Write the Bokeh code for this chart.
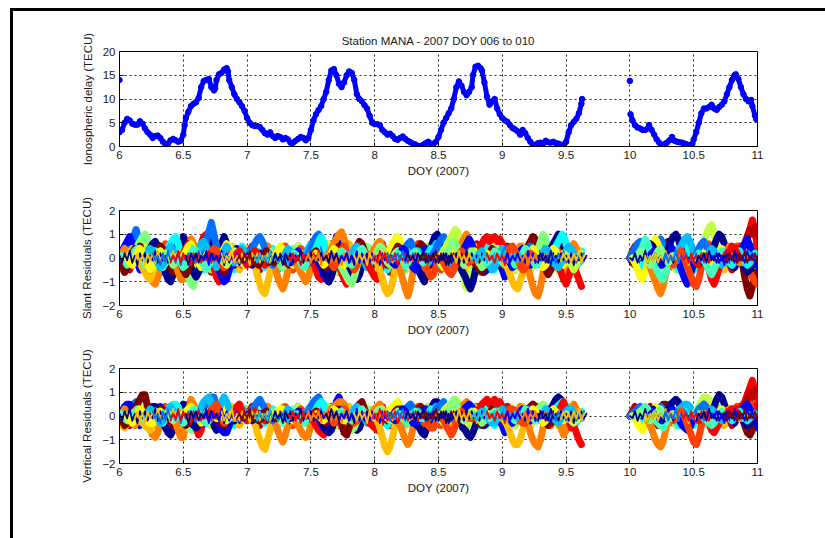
from bokeh.plotting import figure
from bokeh.layouts import column, row
from bokeh.models import Div, Spacer, FixedTicker, Range1d, ColumnDataSource
from bokeh.embed import file_html
from bokeh.resources import INLINE

# ---------------------------------------------------------------- data
# Ionospheric delay (TECU) at station MANA
ion_doy_a = [6.00, 6.02, 6.04, 6.06, 6.08, 6.10, 6.12, 6.14, 6.16, 6.18, 6.20, 6.22, 6.24, 6.26, 6.28,
             6.30, 6.32, 6.34, 6.36, 6.38, 6.40, 6.42, 6.44, 6.46, 6.48, 6.50, 6.51, 6.52, 6.54, 6.56,
             6.58, 6.60, 6.62, 6.64, 6.66, 6.68, 6.70, 6.72, 6.74, 6.75, 6.76, 6.78, 6.80, 6.82, 6.84,
             6.85, 6.86, 6.88, 6.90, 6.92, 6.94, 6.96, 6.98, 7.00, 7.02, 7.04, 7.06, 7.08, 7.10, 7.12,
             7.14, 7.16, 7.18, 7.20, 7.22, 7.24, 7.26, 7.28, 7.30, 7.32, 7.34, 7.36, 7.38, 7.40, 7.42,
             7.44, 7.46, 7.48, 7.50, 7.52, 7.54, 7.56, 7.58, 7.60, 7.62, 7.64, 7.66, 7.68, 7.70, 7.72,
             7.74, 7.76, 7.78, 7.80, 7.82, 7.84, 7.86, 7.88, 7.90, 7.92, 7.94, 7.96, 7.98, 8.00, 8.02,
             8.04, 8.06, 8.08, 8.10, 8.12, 8.14, 8.16, 8.18, 8.20, 8.22, 8.24, 8.26, 8.28, 8.30, 8.32,
             8.34, 8.36, 8.38, 8.40, 8.42, 8.44, 8.46, 8.48, 8.50, 8.52, 8.54, 8.56, 8.58, 8.60, 8.62,
             8.64, 8.66, 8.68, 8.70, 8.72, 8.74, 8.76, 8.77, 8.79, 8.81, 8.83, 8.84, 8.86, 8.88, 8.90,
             8.92, 8.94, 8.96, 8.98, 9.00, 9.02, 9.04, 9.06, 9.08, 9.10, 9.12, 9.14, 9.16, 9.18, 9.20,
             9.22, 9.24, 9.26, 9.28, 9.30, 9.32, 9.34, 9.36, 9.38, 9.40, 9.42, 9.44, 9.46, 9.48, 9.50,
             9.52, 9.54, 9.56, 9.58, 9.60, 9.62, 9.625]
ion_tec_a = [3.0, 3.5, 5.0, 5.8, 5.5, 4.8, 4.6, 4.6, 5.3, 4.8, 3.8, 3.0, 2.5, 1.8, 2.2,
             2.3, 1.8, 1.0, 0.5, 0.6, 1.3, 1.6, 1.3, 1.0, 1.2, 2.5, 4.5, 6.0, 7.3, 8.5,
             9.0, 9.3, 10.2, 12.5, 13.8, 14.0, 14.2, 12.5, 11.8, 12.2, 14.0, 15.2, 15.5, 16.2, 16.5,
             15.8, 14.0, 12.5, 11.0, 10.0, 9.3, 8.5, 7.5, 6.0, 5.0, 4.5, 4.3, 4.3, 4.1, 3.5,
             2.8, 2.5, 3.0, 2.2, 1.8, 2.2, 2.0, 1.5, 1.8, 1.5, 0.8, 0.8, 1.2, 1.6, 2.0,
             1.8, 1.3, 1.8, 3.5, 5.5, 6.8, 7.7, 8.5, 10.0, 11.5, 14.0, 16.0, 16.3, 15.0, 13.2,
             12.5, 13.5, 15.0, 15.8, 15.5, 14.0, 11.0, 10.0, 9.5, 8.7, 8.0, 6.5, 5.0, 4.7, 4.7,
             4.5, 3.5, 3.0, 2.5, 2.7, 2.2, 1.6, 1.4, 1.8, 2.1, 1.6, 1.2, 0.9, 0.6, 0.4,
             0.1, 0.0, 0.4, 0.7, 1.0, 0.6, 0.6, 1.0, 2.0, 3.5, 5.0, 6.0, 7.0, 8.0, 10.0,
             12.5, 13.7, 12.8, 11.5, 10.8, 11.5, 12.5, 15.0, 16.8, 17.0, 16.5, 16.0, 13.5, 10.5, 8.8,
             9.5, 10.0, 8.0, 6.8, 6.0, 5.5, 5.2, 4.5, 3.9, 3.6, 3.2, 2.5, 3.5, 2.8, 1.8,
             1.0, 0.3, 0.4, 0.7, 0.8, 0.6, 1.2, 0.9, 0.8, 1.0, 0.7, 0.6, 0.4, 0.0, 1.0,
             3.0, 4.5, 5.2, 5.8, 7.0, 9.0, 10.0]
ion_doy_b = [10.005, 10.02, 10.04, 10.06, 10.08, 10.10, 10.12, 10.14, 10.15, 10.17, 10.19, 10.21, 10.23,
             10.25, 10.27, 10.29, 10.31, 10.33, 10.35, 10.37, 10.39, 10.41, 10.43, 10.45, 10.47, 10.49,
             10.50, 10.52, 10.54, 10.56, 10.58, 10.60, 10.62, 10.64, 10.66, 10.68, 10.70, 10.72, 10.74,
             10.76, 10.78, 10.80, 10.82, 10.83, 10.85, 10.87, 10.89, 10.91, 10.93, 10.95, 10.96, 10.98,
             10.99]
ion_tec_b = [6.8, 5.5, 4.5, 4.0, 3.8, 3.5, 3.5, 3.8, 4.5, 3.5, 2.5, 1.5, 0.8,
             0.3, 0.5, 0.8, 1.3, 2.0, 1.2, 1.0, 0.9, 0.8, 0.6, 0.4, 0.2, 0.6,
             1.5, 3.0, 5.0, 7.0, 8.0, 8.0, 8.3, 8.8, 8.0, 7.7, 8.3, 8.8, 9.5,
             11.0, 12.5, 14.0, 15.0, 15.2, 14.2, 12.5, 11.0, 10.0, 9.5, 9.8, 8.5, 6.5,
             5.8]
ion_first_doy = [6.0, 10.0]
ion_first_tec = [14.0, 13.8]

# Satellite colours (jet order, low PRN -> high PRN)
JET = {"N": "#00008F", "B": "#0000FF", "A": "#0070FF", "S": "#00BFFF", "C": "#00FFFF",
       "Q": "#40FFBF", "G": "#80FF80", "L": "#BFFF40", "Y": "#FFFF00", "O": "#FFBF00",
       "R": "#FF8000", "E": "#FF4000", "D": "#FF0000", "K": "#BF0000", "M": "#800000"}

STEP = 0.02  # sampling of each pass, days
# Passes: (satellite colour, first DOY, slant residuals, vertical residuals), residuals in 0.1 TECU
passes_doy6 = [
    ("D", 6.00, [0, -4, -6, -3, 1, 4, 3, 0, -3, -5, -2, 2, 5, 3, 0, -3, -5, -2],
                [0, -3, -4, -2, 1, 3, 2, 0, -2, -3, -1, 1, 3, 2, 0, -2, -3, -1]),
    ("A", 6.05, [2, 4, 6, 9, 12, 8, 3, -1, -4, -2, 1, 3, 0, -3, -6, -4, -1, 2, 4, 1],
                [1, 3, 4, 5, 6, 4, 2, -1, -3, -1, 1, 2, 0, -2, -4, -3, -1, 1, 3, 1]),
    ("B", 6.00, [1, 3, 5, 7, 9, 6, 2, -2, -5, -3, 0, 2, 1, -1, -3],
                [1, 2, 4, 5, 5, 3, 1, -2, -4, -2, 0, 1, 1, -1, -2]),
    ("G", 6.10, [1, 3, 5, 7, 9, 10, 8, 4, 0, -3, -5, -3, 0, 2, 4, 2, -1, -4, -6, -8, -6, -3, 0],
                [1, 2, 3, 4, 5, 5, 4, 2, 0, -2, -3, -2, 0, 1, 2, 1, -1, -3, -4, -5, -4, -2, 0]),
    ("R", 6.00, [0, 2, 4, 2, -1, -3, -2, 1, 3, 1, -2, -5, -8, -10, -11, -8, -4, 0, 3, 5, 3],
                [0, 1, 3, 1, -1, -3, -4, -2, 1, 0, -2, -4, -6, -8, -9, -7, -3, 0, 2, 3, 2]),
    ("O", 6.00, [-2, -4, -3, 0, 2, 4, 3, 1, -2, -4, -6, -8, -9, -6, -2, 1, 3, 2],
                [-2, -4, -5, -3, -1, 1, 2, 0, -2, -3, -4, -5, -6, -4, -1, 1, 2, 1]),
    ("N", 6.20, [0, 2, 4, 6, 7, 5, 2, -2, -6, -9, -10, -7, -3, 1, 5, 9, 7, 4, 1],
                [0, 1, 3, 4, 4, 3, 1, -2, -5, -7, -8, -6, -3, 0, 3, 5, 4, 2, 1]),
    ("C", 6.30, [0, -2, -1, 2, 4, 6, 8, 9, 6, 2, -1, -3, -1, 1, 3, 1],
                [0, -1, -1, 1, 3, 4, 5, 5, 4, 1, -1, -2, -1, 1, 2, 1]),
    ("M", 6.00, [-1, -3, -6, -4, -1, 2, 4, 3, 5, 2, -1, -3, -5, -3, 0, 3, 5, 4, 1, -2, -4, -6, -3, 0],
                [-1, -2, -4, -3, 0, 2, 3, 5, 7, 9, 9, 4, -2, -2, 0, 2, 3, 3, 1, -1, -3, -4, -2, 0]),
    ("Q", 6.00, [0, 1, -1, -3, -2, 1, 3, 4, 2, -1, -3, -2, 0, 2, 3, 1, -2, -4, -2, 1],
                [0, 1, -1, -2, -1, 1, 2, 3, 1, -1, -2, -1, 0, 1, 2, 1, -1, -3, -1, 1]),
    ("Y", 6.06, [0, -2, -3, -1, 2, 4, 3, 0, -3, -5, -4, -1, 2, 3, 1],
                [0, -2, -3, -2, 1, 3, 2, 0, -2, -3, -3, -1, 1, 2, 1]),
    ("S", 6.20, [0, 2, 4, 3, 0, -2, -4, -3, 0, 3, 5, 3, 1],
                [0, 1, 3, 2, 0, -1, -3, -2, 0, 2, 4, 2, 1]),
    ("R", 6.42, [0, -3, -6, -9, -9, -4, 3, 8, 6, 2, -1, -3, -1, 2, 4, 2, -1, -3],
                [0, -3, -6, -9, -9, -4, 2, 7, 5, 2, -1, -2, -1, 1, 3, 1, -1, -2]),
    ("G", 6.36, [2, 1, -1, -3, -2, 1, 2, 0, -4, -8, -11, -12, -8, -3, 1, 3, 2],
                [1, 1, -1, -2, -1, 1, 1, 0, -3, -5, -6, -6, -4, -2, 1, 2, 1]),
    ("D", 6.48, [0, 2, 4, 6, 5, 3, 1, 3, 6, 9, 10, 6, 1, -4, -8, -10, -7, -3, 0, 3],
                [0, 1, 2, 3, 1, -2, -5, -8, -6, 2, 7, 5, 1, -2, -3, -2, 0, 1]),
    ("N", 6.52, [0, -2, -4, -6, -8, -6, -2, 3, 7, 10, 7, 2, -1, 2, 6, 9, 6, 2, -1, -3],
                [0, -1, -3, -4, -5, -4, -1, 2, 4, 6, 2, -4, -6, -2, 3, 5, 4, 1, -1, -2]),
    ("A", 6.54, [0, 2, 1, -1, -2, 0, 3, 7, 11, 15, 10, 5, 1, -2, -4, -2, 1, 3, 1],
                [0, 1, 1, -1, -1, 0, 2, 4, 6, 8, 8, 4, 1, -1, -3, -1, 1, 2, 1]),
    ("B", 6.56, [0, 2, 3, 1, -2, -4, -3, 0, 2, 1, -2, -5, -8, -10, -9, -5, -1, 2, 4, 2],
                [0, 1, 2, 1, -1, -3, -2, 0, 1, 1, -1, -3, -6, -7, -7, -4, -1, 1, 3, 1]),
    ("M", 6.46, [0, -2, -5, -7, -5, -2, 1, 3, 2, -1, -3, -1, 2, 4, 3, 0, -3, -5, -6, -3, 0, 2, 1],
                [0, -1, -3, -4, -3, -1, 1, 2, 1, -1, -2, -1, 1, 3, 2, 0, -2, -3, -4, -2, 0, 1, 1]),
    ("Y", 6.50, [1, 3, 5, 6, 4, 1, -2, -4, -2, 1, 3, 2, 0, -2, -1, 2, 4, 6, 5, 2, 0, -2, -1, 1, 2],
                [1, 2, 3, 4, 3, 1, -1, -3, -1, 1, 2, 1, 0, -1, -1, 1, 3, 4, 3, 1, 0, -1, -1, 1, 1]),
    ("S", 6.60, [0, 3, 6, 7, 5, 2, 0, -2, -4, -2, 1, 3, 5, 3, 0, -2, -1, 2, 4, 3, 1],
                [0, 2, 4, 6, 7, 8, 5, 2, 0, 3, 6, 8, 6, 3, 0, -1, -1, 1, 3, 2, 1]),
    ("Q", 6.46, [0, -2, -4, -3, 0, 2, 4, 3, 1, -1, -3, -5, -3, 0, 2, 3, 1, -1],
                [0, -1, -3, -2, 0, 1, 3, 2, 1, -1, -2, -3, -2, 0, 1, 2, 1, -1]),
    ("E", 6.70, [0, 2, 4, 3, 1, -2, -4, -3, 0, 2, 3, 1, -1, -3, -2, 0, 2, 1],
                [0, 2, 4, 5, 3, -1, -3, -2, 0, 1, 2, 1, -1, -2, -1, 0, 1, 1]),
    ("L", 6.80, [0, -2, -3, -1, 1, 3, 2, 0, -2, -3, -1, 1, 2],
                [0, -1, -2, -1, 1, 2, 1, 0, -1, -2, -1, 1, 1]),
]

passes_doy7 = [
    ("O", 7.00, [1, 2, 0, -3, -7, -11, -14, -15, -11, -6, -2, 1, 3, 2],
                [1, 1, 0, -3, -7, -10, -13, -14, -10, -6, -2, 1, 2, 1]),
    ("R", 7.10, [0, 2, 4, 5, 3, 0, -4, -8, -11, -13, -10, -5, -1, 2],
                [0, 1, 3, 4, 2, 0, -3, -6, -9, -11, -8, -4, -1, 1]),
    ("A", 7.00, [0, 2, 4, 6, 8, 9, 7, 4, 1, -1, -3, -2, 0, 2, 3, 1, -1, -2, 0, 2, 1],
                [0, 1, 3, 4, 6, 7, 5, 3, 1, -1, -2, -1, 0, 1, 2, 1, -1, -1, 0, 1, 1]),
    ("N", 7.00, [0, -1, -3, -2, 0, 2, 1, -1, -2, 0, 2, 1, -1, -3, -2, 0, 2, 3, 1, -1, -3, -4, -2, 0, 1, -1],
                [0, -1, -2, -1, 0, 1, 1, -1, -1, 0, 1, 1, -1, -2, -1, 0, 1, 2, 1, -1, -2, -3, -1, 0, 1, -1]),
    ("D", 6.90, [0, 2, 3, 1, -1, -3, -2, 1, 3, 2, 0, -2, -3, -1, 1, 2, 0],
                [0, 4, 5, 2, -1, -2, -1, 1, 2, 1, 0, -1, -2, -1, 1, 1, 0]),
    ("G", 7.16, [0, 2, 3, 1, -1, -3, -4, -2, 0, 2, 4, 3, 1, -1, -2, 0, 1, 3, 2, 0],
                [0, 1, 2, 1, -1, -2, -3, -1, 0, 1, 3, 2, 1, -1, -1, 0, 1, 2, 1, 0]),
    ("M", 7.05, [0, -2, -3, -1, 1, 3, 2, 0, -2, -1, 1, 2, 0, -2, -3, -1, 0, 2, 1],
                [0, -1, -2, -1, 1, 2, 1, 0, -1, -1, 1, 1, 0, -1, -2, -1, 0, 1, 1]),
    ("Y", 7.20, [0, 1, 3, 5, 4, 2, 0, -2, -3, -1, 1, 2, 1, -1, -3, -2, 0],
                [0, 1, 2, 3, 3, 1, 0, -1, -2, -1, 1, 1, 1, -1, -2, -1, 0]),
    ("S", 7.28, [0, 2, 4, 3, 1, -1, -3, -2, 0, 2, 4, 6, 5, 3, 0, -2],
                [0, 1, 3, 2, 1, -1, -2, -1, 0, 1, 3, 4, 3, 2, 0, -1]),
    ("R", 7.36, [0, -2, -4, -6, -8, -10, -8, -4, 0, 2, 1, -1],
                [0, -2, -4, -6, -8, -9, -8, -4, 0, 2, 1, -1]),
    ("B", 7.30, [0, -1, -2, 0, 2, 3, 1, -1, -3, -2, 0, 2, 3, 1, 0],
                [0, -1, -1, 0, 1, 2, 1, -1, -2, -1, 0, 1, 2, 1, 0]),
    ("Q", 7.35, [0, 2, 1, -1, -3, -4, -2, 0, 2, 4, 3, 1, -1],
                [0, 1, 1, -1, -2, -3, -1, 0, 1, 3, 2, 1, -1]),
    ("A", 7.46, [0, 2, 4, 7, 9, 10, 8, 4, 0, -2, -4, -2, 1, 3, 2, 0, -2, -4, -6, -8, -9, -7, -3, 0, 2],
                [0, 2, 4, 6, 7, 8, 6, 3, 0, -1, -3, -1, 1, 2, 1, 0, -1, -3, -4, -5, -6, -5, -2, 0, 1]),
    ("C", 7.50, [0, 2, 4, 7, 9, 7, 3, 0, -2, -1, 1, 3, 2, 0, -2, -1, 1],
                [0, 1, 3, 5, 6, 5, 2, 0, -1, -1, 1, 2, 1, 0, -1, -1, 1]),
    ("D", 7.50, [0, -2, -5, -8, -9, -6, -2, 1, 3, 2, 0, -3, -6, -9, -11, -8, -3, 1, 3],
                [0, -2, -4, -6, -7, -8, -5, -1, 2, 1, 0, -2, -4, -6, -7, -5, -2, 1, 2]),
    ("B", 7.54, [0, -2, -4, -7, -9, -10, -5, 3, 9, 6, 2, -1, -3, -1, 2, 1],
                [0, -1, -3, -5, -6, -7, -3, 2, 6, 8, 5, 1, -2, -1, 1, 1]),
    ("N", 7.56, [0, -2, -5, -8, -10, -8, -4, 0, 3, 5, 3, 0, -3, -6, -8, -9, -7, -3, 0, 2, 1],
                [0, -1, -4, -6, -7, -6, -3, 0, 2, 3, 2, 0, -2, -4, -5, -6, -5, -2, 0, 1, 1]),
    ("R", 7.62, [0, 2, 4, 6, 8, 10, 11, 8, 4, 0, -2, -1, 1, 2, 0],
                [0, 1, 3, 4, 5, 6, 6, 5, 2, 0, -1, -1, 1, 1, 0]),
    ("G", 7.70, [0, -2, -4, -6, -8, -10, -11, -8, -4, 0, 2, 3, 5, 4, 2, 0],
                [0, -1, -3, -4, -5, -6, -6, -5, -2, 0, 1, 2, 3, 3, 1, 0]),
    ("M", 7.50, [0, 2, 3, 1, -1, -3, -4, -2, 0, 2, 4, 5, 3, 0, -2, -3, -1, 2, 5, 7, 6, 3, 0, -2, -3, -1],
                [0, 1, 2, 1, -1, -2, -3, -1, 0, 1, 3, 2, -3, -7, -8, -5, -1, 2, 4, 5, 6, 3, 0, -1, -2, -1]),
    ("Y", 7.52, [0, 2, 1, -1, -3, -2, 0, 2, 4, 3, 1, -1, -3, -2, 1, 3, 2],
                [0, 1, 1, -1, -2, -1, 0, 1, 3, 2, 1, -1, -2, -1, 1, 2, 1]),
    ("E", 7.64, [0, -2, -4, -2, 1, 3, 5, 3, 0, -3, -5, -3, 0, 2, 3, 1],
                [0, -1, -3, -1, 1, 2, 3, 2, 0, -2, -3, -2, 0, 1, 2, 1]),
    ("S", 7.80, [0, 2, 4, 5, 3, 0, -2, -4, -3, 0, 3, 2, 0],
                [0, 1, 3, 4, 2, 0, -1, -3, -2, 0, 2, 1, 0]),
    ("Q", 7.70, [0, 1, 3, 2, 0, -2, -3, -1, 1, 3, 4, 2, 0, -2, -1],
                [0, 1, 2, 1, 0, -1, -2, -1, 1, 2, 3, 1, 0, -1, -1]),
]

passes_doy8 = [
    ("D", 7.92, [0, -2, -4, -6, -8, -9, -6, -2, 1, 3, 2, 0, -2, -1, 1],
                [0, -1, -3, -4, -5, -6, -4, -1, 1, 2, 1, 0, -1, -1, 1]),
    ("R", 7.96, [0, 2, 4, 6, 7, 5, 2, -1, -3, -1, 1, 2, 0],
                [0, 1, 3, 4, 5, 3, 1, -1, -2, -1, 1, 1, 0]),
    ("O", 8.00, [0, -2, -5, -9, -13, -15, -14, -10, -5, 0, 3, 2],
                [0, -2, -5, -9, -13, -15, -13, -9, -4, 0, 2, 1]),
    ("Y", 8.08, [0, 2, 4, 6, 8, 9, 7, 4, 1, -1, -2, 0, 2, 1],
                [0, 1, 3, 4, 5, 6, 4, 2, 1, -1, -1, 0, 1, 1]),
    ("R", 8.14, [0, 1, -2, -5, -9, -13, -16, -12, -6, -1, 2, 3, 1],
                [0, 1, -2, -4, -7, -10, -12, -10, -5, -1, 1, 2, 1]),
    ("A", 8.20, [0, 2, 4, 6, 7, 5, 2, 0, -2, -3, -1, 1, 3, 2, 0],
                [0, 1, 3, 4, 5, 3, 1, 0, -1, -2, -1, 1, 2, 1, 0]),
    ("N", 8.29, [0, -2, -4, -6, -8, -10, -6, 0, 6, 9, 10, 7, 3, 0, -3],
                [0, -2, -4, -5, -7, -8, -5, 0, 4, 6, 6, 4, 2, 0, -2]),
    ("M", 8.00, [0, 2, 3, 1, -1, -3, -2, 0, 3, 5, 4, 1, -2, -4, -3, 0, 2, 4, 6, 5, 2, -1, -3],
                [0, 1, 2, 1, -1, -2, -1, 0, 2, 3, 3, 1, -1, -3, -2, 0, 1, 3, 4, 3, 1, -1, -2]),
    ("G", 8.00, [0, 3, 5, 4, 1, -2, -3, -1, 2, 3, 1, -1, -3, -4, -2, 0, 2, 1],
                [0, 2, 3, 3, 1, -1, -2, -1, 1, 2, 1, -1, -2, -3, -1, 0, 1, 1]),
    ("B", 8.12, [0, -2, -3, -1, 2, 4, 3, 0, -2, -4, -5, -3, 0, 2, 4, 3, 1, -1, -3, -2],
                [0, -1, -2, -1, 1, 3, 2, 0, -1, -3, -3, -2, 0, 1, 3, 2, 1, -1, -2, -1]),
    ("S", 8.30, [0, 2, 3, 1, -1, -3, -2, 1, 4, 6, 4, 1, -1, -3, -2],
                [0, 1, 2, 1, -1, -2, -1, 1, 3, 4, 3, 1, -1, -2, -1]),
    ("E", 8.36, [0, -2, -4, -6, -8, -7, -4, 0, 2, 1],
                [0, -1, -3, -4, -5, -5, -3, 0, 1, 1]),
    ("Q", 8.16, [0, 2, 1, -1, -3, -2, 0, 2, 3, 1, -1, -2, 0, 2],
                [0, 1, 1, -1, -2, -1, 0, 1, 2, 1, -1, -1, 0, 1]),
    ("C", 8.40, [0, 2, 4, 3, 1, -1, -3, -2, 0, 2, 1],
                [0, 1, 3, 2, 1, -1, -2, -1, 0, 1, 1]),
    ("A", 8.44, [0, 2, 4, 6, 8, 9, 7, 3, 0, -2, -3, -1, 1, 3, 2, 0],
                [0, 1, 3, 4, 5, 6, 4, 2, 0, -1, -2, -1, 1, 2, 1, 0]),
    ("L", 8.51, [0, 2, 4, 6, 8, 10, 12, 11, 4, -5, -12, -13, -8, -2, 1],
                [0, 1, 3, 4, 5, 6, 7, 6, 2, -3, -6, -6, -4, -1, 1]),
    ("R", 8.62, [0, 2, 4, 6, 8, 10, 7, 3, 0, -2, -1, 1, 0],
                [0, 1, 3, 4, 5, 6, 4, 2, 0, -1, -1, 1, 0]),
    ("N", 8.63, [0, -2, -4, -6, -8, -11, -13, -10, -5, 0, 3, 2],
                [0, -2, -3, -5, -6, -8, -9, -7, -4, 0, 2, 1]),
    ("B", 8.66, [0, 2, 4, 6, 8, 6, 3, 0, -2, -4, -6, -5, -2, 1, 3, 1, -2, -5, -8, -6, -2],
                [0, 1, 3, 4, 5, 4, 2, 0, -1, -3, -4, -3, -1, 1, 2, 1, -2, -4, -7, -5, -2]),
    ("D", 8.78, [0, 2, 4, 6, 8, 9, 7, 8, 9, 7, 8, 6, 3, 0, -2, -1, 1],
                [0, 2, 3, 5, 6, 7, 5, 6, 7, 5, 6, 4, 2, 0, -1, -1, 1]),
    ("M", 8.76, [0, -2, -3, -5, -6, -4, -1, 2, 4, 3, 1, -1, -3, -2, 0, 2],
                [0, -1, -2, -3, -4, -3, -1, 1, 3, 2, 1, -1, -2, -1, 0, 1]),
    ("Y", 8.50, [0, -2, -4, -3, 0, 2, 4, 3, 1, -1, -3, -2, 0, 2, 3, 1, -1, -2, 0, 2, 1],
                [0, -1, -3, -2, 0, 1, 3, 2, 1, -1, -2, -1, 0, 1, 2, 1, -1, -1, 0, 1, 1]),
    ("G", 8.54, [0, 2, 4, 6, 7, 5, 2, -1, -3, -2, 1, 3, 2, 0, -2, -4, -3, 0],
                [0, 1, 3, 5, 7, 5, 2, -1, -2, -1, 1, 2, 1, 0, -1, -3, -2, 0]),
    ("E", 8.52, [0, -2, -4, -6, -7, -5, -2, 1, 3, 2, 0, -2, -1],
                [0, -2, -4, -6, -8, -6, -2, 1, 2, 1, 0, -1, -1]),
    ("S", 8.80, [0, 2, 3, 1, -1, -3, -5, -4, -1, 2, 4, 3, 1, -1, -2],
                [0, 1, 2, 1, -1, -2, -3, -3, -1, 1, 3, 2, 1, -1, -1]),
    ("Q", 8.86, [0, -2, -1, 1, 3, 2, 0, -2, -3, -1, 1, 2, 0],
                [0, -1, -1, 1, 2, 1, 0, -1, -2, -1, 1, 1, 0]),
]

passes_doy9 = [
    ("O", 9.00, [0, -2, -4, -7, -10, -12, -13, -10, -6, -2, 1, 2, 0],
                [0, -2, -4, -7, -10, -12, -12, -10, -6, -2, 1, 1, 0]),
    ("R", 9.10, [0, 3, 5, 3, 0, -4, -8, -12, -15, -16, -12, -6, -1, 2],
                [0, 2, 4, 2, 0, -3, -7, -10, -12, -13, -10, -5, -1, 1]),
    ("M", 9.10, [0, -2, -1, 1, 3, 5, 7, 9, 8, 5, 1, -2, -5, -7, -5, -2, 1],
                [0, -1, -1, 1, 2, 3, 4, 5, 4, 3, 1, -1, -3, -4, -3, -1, 1]),
    ("G", 9.16, [0, 2, 3, 1, -1, 1, 4, 7, 10, 8, 4, 0, -2, -1],
                [0, 1, 2, 1, -1, 1, 3, 4, 5, 4, 2, 0, -1, -1]),
    ("N", 9.28, [0, -2, -3, -1, 2, 4, 6, 8, 10, 9, 5, 1, -2, -4, -2, 0],
                [0, -1, -2, -1, 1, 3, 5, 7, 8, 7, 4, 1, -1, -3, -1, 0]),
    ("C", 9.37, [0, 2, 4, 6, 8, 10, 8, 4, 0, -2, -1, 1, 0],
                [0, 1, 3, 4, 5, 6, 5, 2, 0, -1, -1, 1, 0]),
    ("R", 9.42, [0, -2, -4, -6, -4, 0, 4, 6, 4, 1, -1],
                [0, -2, -5, -8, -6, -1, 3, 5, 3, 1, -1]),
    ("D", 9.42, [0, -3, -6, -9, -11, -8, -4, -3, -6, -9, -12],
                [0, 2, 4, 6, 3, -2, -5, -4, -7, -10, -12]),
    ("A", 9.00, [0, 2, 4, 3, 1, -1, -3, -2, 0, 2, 4, 5, 3, 0, -2, -3, -1, 1, 2, 0],
                [0, 1, 3, 2, 1, -1, -2, -1, 0, 1, 3, 3, 2, 0, -1, -2, -1, 1, 1, 0]),
    ("B", 9.04, [0, -2, -4, -3, 0, 3, 4, 2, -1, -3, -2, 0, 2, 1, -1, -3, -2, 1, 3, 2, 0],
                [0, -1, -3, -2, 0, 2, 3, 1, -1, -2, -1, 0, 1, 1, -1, -2, -1, 1, 2, 1, 0]),
    ("Y", 9.20, [0, 2, 4, 3, 0, -2, -4, -3, -1, 2, 4, 3, 0, -2, -3, -1, 1, 2, 0, -2, -1],
                [0, 1, 3, 2, 0, -1, -3, -2, -1, 1, 3, 2, 0, -1, -2, -1, 1, 1, 0, -1, -1]),
    ("Q", 9.02, [0, 2, 1, -1, -3, -2, 0, 2, 4, 3, 1, -1, -3, -2, 0],
                [0, 1, 1, -1, -2, -1, 0, 1, 3, 2, 1, -1, -2, -1, 0]),
    ("S", 9.30, [0, 2, 4, 3, 1, -1, -3, -4, -2, 1, 3, 5, 4, 2, 0, -2, -1],
                [0, 1, 3, 2, 1, -1, -2, -3, -1, 1, 2, 3, 3, 1, 0, -1, -1]),
    ("E", 9.02, [0, 2, 4, 5, 3, 0, -3, -5, -4, -1, 2, 1],
                [0, 1, 3, 3, 2, 0, -2, -3, -3, -1, 1, 1]),
    ("L", 9.46, [0, 2, 1, -1, -3, -5, -3, 0, 2],
                [0, 1, 1, -1, -2, -3, -2, 0, 1]),
]

passes_doy10 = [
    ("M", 10.00, [0, -2, -3, -1, 2, 4, 6, 4, 1, -2, -4, -3, 0, 3, 6, 7, 5, 2, -1, -2],
                 [0, 1, 1, 0, 1, 2, 3, 2, 1, -1, -2, 0, 3, 5, 5, 4, 2, 1, -1, -1]),
    ("D", 10.00, [0, 2, 4, 6, 4, 1, -2, -4, -3, 0, 2, 1, -1],
                 [0, 1, 2, 3, 2, 1, -1, -2, -2, 0, 1, 1, -1]),
    ("C", 10.02, [0, -2, -4, -5, -3, 0, 2, 4, 3, 1, -1, -2, 0],
                 [0, -1, -2, -3, -2, 0, 1, 2, 2, 1, -1, -1, 0]),
    ("A", 10.00, [0, 2, 4, 6, 7, 5, 2, -1, -2, 0, 3, 6, 8, 6, 3, 0, -2, -1],
                 [0, 1, 2, 3, 4, 3, 1, -1, -1, 0, 2, 3, 4, 3, 2, 0, -1, -1]),
    ("Y", 10.02, [0, -2, -5, -8, -9, -6, -2, 2, 6, 8, 6, 2, -1, -3, -1],
                 [0, -1, -3, -5, -6, -4, -1, 1, 3, 4, 3, 1, -1, -2, -1]),
    ("N", 10.10, [0, 2, 4, 6, 5, 2, -1, -3, -2, 1, 4, 7, 9, 10, 8, 4, 0, -2, -1],
                 [0, 1, 2, 3, 3, 1, -1, -2, -1, 1, 3, 5, 6, 7, 6, 3, 0, -1, -1]),
    ("R", 10.12, [0, -2, -4, -7, -10, -13, -15, -12, -7, -2, 1, 3, 2],
                 [0, -2, -4, -7, -10, -12, -13, -11, -6, -2, 1, 2, 1]),
    ("Q", 10.06, [0, 2, 5, 8, 6, 2, -1, -4, -6, -8, -9, -6, -2, 1, 2],
                 [0, 1, 3, 4, 3, 1, -1, -2, -3, -4, -5, -3, -1, 1, 1]),
    ("B", 10.15, [0, 2, 3, 1, -1, -3, -2, 0, 2, 4, 3, 0, -3, -6, -9, -11, -8, -4, 0, 3],
                 [0, 1, 2, 1, -1, -2, -1, 0, 1, 3, 2, 0, -2, -4, -5, -6, -5, -2, 0, 2]),
    ("S", 10.35, [0, 2, 4, 6, 8, 9, 7, 4, 1, -1, -3, -2, 0],
                 [0, 1, 3, 4, 5, 5, 4, 2, 1, -1, -2, -1, 0]),
    ("E", 10.30, [0, -2, -3, -1, 2, 3, 1, -2, -5, -8, -11, -12, -9, -4, 0, 3, 6, 4, 1],
                 [0, -1, -2, -1, 1, 2, 1, -2, -5, -8, -11, -12, -9, -4, 0, 2, 4, 3, 1]),
    ("G", 10.04, [0, 1, 3, 2, 0, -2, -3, -1, 1, 3, 4, 2, 0, -2, -1, 1],
                 [0, 1, 2, 1, 0, -1, -2, -1, 1, 2, 3, 1, 0, -1, -1, 1]),
    ("L", 10.50, [0, 2, 3, 5, 7, 10, 13, 14, 10, 4, -1, -3, -1, 2],
                 [0, 2, 4, 6, 8, 8, 7, 6, 4, 2, -1, -2, -1, 1]),
    ("D", 10.50, [0, -2, -3, -1, 1, -2, -5, -9, -11, -8, -4, 0, 2, 3, 2, 0, 2, 4, 3],
                 [0, -1, -2, -1, 1, -1, -3, -6, -7, -5, -3, 0, 1, 2, 1, 0, 1, 3, 2]),
    ("N", 10.56, [0, -2, -3, -1, 2, 5, 8, 10, 9, 6, 2, -1, -3, -4, -2, 0, 2, 1],
                 [0, -1, -2, -1, 2, 4, 7, 9, 8, 5, 2, -1, -2, -3, -1, 0, 1, 1]),
    ("A", 10.50, [0, 2, 4, 6, 7, 5, 2, -1, -3, -2, 0, 2, 3, 1, -1, -3, -2, 1, 3, 2],
                 [0, 1, 3, 4, 5, 3, 1, -1, -2, -1, 0, 1, 2, 1, -1, -2, -1, 1, 2, 1]),
    ("Y", 10.56, [0, 2, 1, -1, -3, -2, 0, 2, 4, 3, 1, -1, -2, 0, 2],
                 [0, 1, 1, -1, -2, -1, 0, 1, 3, 2, 1, -1, -1, 0, 1]),
    ("M", 10.78, [0, -2, -1, 1, 3, -2, -8, -13, -16, -12, -6],
                 [0, -1, -1, 1, 2, -1, -4, -7, -8, -6, -3]),
    ("D", 10.80, [0, 2, 4, 3, 5, 6, 9, 12, 16, 12, 4],
                 [0, 2, 3, 3, 4, 6, 9, 12, 15, 11, 4]),
    ("E", 10.88, [0, -2, -4, -6, -8, -10, -11],
                 [0, 2, 4, 6, 8, 9, 7]),
    ("K", 10.86, [0, 3, 6, 9, 12, 10, 13, 11, 8, 6, 5],
                 [0, 2, 5, 7, 10, 8, 11, 9, 6, 4, 3]),
    ("B", 10.84, [0, 2, 4, 6, 8, 5, 2, -1, -3, -5, -3],
                 [0, 1, 3, 4, 5, 3, 1, -2, -4, -6, -8]),
    ("N", 10.86, [0, -2, -4, -6, -5, -3, -1, 1],
                 [0, -1, -3, -4, -3, -2, -1, 1]),
    ("S", 10.60, [0, 2, 4, 3, 1, -1, -3, -2, 0, 2, 4, 3, 1, -1, -2, 0, 2],
                 [0, 1, 3, 2, 1, -1, -2, -1, 0, 1, 3, 2, 1, -1, -1, 0, 1]),
    ("R", 10.72, [0, 2, 3, 5, 4, 2, 0, -2, -1, 1],
                 [0, 1, 2, 3, 3, 1, 0, -1, -1, 1]),
    ("C", 10.76, [0, -2, -3, -1, 2, 3, 1, -1, -3, -2, 0, 2],
                 [0, -1, -2, -1, 1, 2, 1, -1, -2, -1, 0, 1]),
    ("Q", 10.52, [0, 2, 1, -1, -3, -5, -7, -5, -2, 1, 3, 2, 0],
                 [0, 1, 1, -1, -2, -3, -4, -3, -1, 1, 2, 1, 0]),
    ("D", 10.74, [0, 2, 3, 5, 4, 2, 0],
                 [0, 1, 2, 3, 3, 1, 0]),
]

# Mid-elevation passes that fill the +-0.6 TECU band
passes_band = [
    ("K", 6.04, [2, -3, -5, -1, 4, 5, 0, -4, -3, 2, 5, 3, -2, -5, -2, 3, 4, 0],
                [1, -2, -4, -1, 3, 4, 0, -3, -2, 1, 4, 2, -1, -4, -1, 2, 3, 0]),
    ("L", 6.16, [0, 4, 6, 2, -3, -5, -1, 4, 5, 1, -4, -6, -2, 3, 5, 1, -3],
                [0, 3, 4, 1, -2, -4, -1, 3, 4, 1, -3, -4, -1, 2, 3, 1, -2]),
    ("E", 6.26, [0, -3, -6, -2, 3, 6, 2, -3, -5, -1, 4, 5, 0, -3],
                [0, -2, -4, -1, 2, 4, 1, -2, -4, -1, 3, 4, 0, -2]),
    ("B", 6.30, [1, 5, 3, -2, -5, -3, 2, 5, 4, -1, -4, -2, 3, 6, 2],
                [1, 4, 2, -1, -4, -2, 1, 4, 3, -1, -3, -1, 2, 4, 1]),
    ("K", 6.50, [0, 4, 7, 3, -2, -5, -2, 3, 6, 2, -3, -6, -3, 2, 5, 1, -3, -5, -1, 3, 4],
                [0, 3, 5, 2, -1, -4, -1, 2, 4, 1, -2, -4, -2, 1, 4, 1, -2, -4, -1, 2, 3]),
    ("C", 6.62, [0, -3, -5, -1, 3, 5, 1, -4, -6, -2, 3, 6, 2, -2, -5, -1, 3, 5],
                [0, -2, -4, -1, 2, 4, 1, -3, -4, -1, 2, 4, 1, -1, -4, -1, 2, 4]),
    ("O", 6.72, [0, 3, 5, 1, -3, -6, -2, 3, 5, 1, -2, -5, -2, 2, 4],
                [0, 2, 4, 1, -2, -4, -1, 2, 4, 1, -1, -4, -1, 1, 3]),
    ("L", 6.56, [0, -3, -6, -3, 2, 5, 2, -3, -5, -1, 4, 6, 2, -3],
                [0, -2, -4, -2, 1, 4, 1, -2, -4, -1, 3, 4, 1, -2]),
    ("K", 7.00, [0, 3, 5, 1, -3, -5, -1, 3, 5, 2, -2, -4, -1, 3, 4, 0, -3, -4, 0, 3, 5, 1, -2],
                [0, 2, 4, 1, -2, -4, -1, 2, 4, 1, -1, -3, -1, 2, 3, 0, -2, -3, 0, 2, 4, 1, -1]),
    ("L", 7.24, [0, 3, 5, 2, -2, -5, -2, 2, 5, 3, -1, -4, -3, 1, 4, 2, -2, -4, -1, 3],
                [0, 2, 4, 1, -1, -4, -1, 1, 4, 2, -1, -3, -2, 1, 3, 1, -1, -3, -1, 2]),
    ("E", 7.20, [0, -3, -5, -2, 2, 5, 2, -2, -5, -3, 1, 4, 3, -1, -4, -2, 2, 4],
                [0, -2, -4, -1, 1, 4, 1, -1, -4, -2, 1, 3, 2, -1, -3, -1, 1, 3]),
    ("C", 7.06, [0, 3, 2, -2, -4, -1, 3, 4, 0, -3, -4, 0, 3],
                [0, 2, 1, -1, -3, -1, 2, 3, 0, -2, -3, 0, 2]),
    ("K", 7.56, [0, -3, -6, -2, 3, 6, 2, -3, -6, -2, 3, 5, 1, -3, -5, -1, 3, 5, 2, -2, -4],
                [0, -2, -4, -1, 2, 4, 1, -2, -4, -1, 2, 4, 1, -2, -4, -1, 2, 4, 1, -1, -3]),
    ("L", 7.60, [0, 3, 6, 2, -3, -6, -2, 3, 6, 2, -2, -5, -2, 3, 5],
                [0, 2, 4, 1, -2, -4, -1, 2, 4, 1, -1, -4, -1, 2, 4]),
    ("O", 7.76, [0, 4, 6, 2, -2, -5, -2, 2, 5, 3, -1, -4],
                [0, 3, 4, 1, -1, -4, -1, 1, 4, 2, -1, -3]),
    ("K", 8.02, [0, 3, 6, 2, -3, -6, -2, 3, 6, 2, -2, -5, -1, 3, 5, 1, -3, -5, -1, 3, 5, 2],
                [0, 2, 4, 1, -2, -4, -1, 2, 4, 1, -1, -4, -1, 2, 4, 1, -2, -4, -1, 2, 4, 1]),
    ("L", 8.20, [0, -3, -5, -1, 3, 5, 1, -3, -6, -2, 3, 5, 2, -2, -4],
                [0, -2, -4, -1, 2, 4, 1, -2, -4, -1, 2, 4, 1, -1, -3]),
    ("C", 8.06, [0, -3, -5, -2, 2, 5, 2, -2, -5, -2, 2, 4],
                [0, -2, -4, -1, 1, 4, 1, -1, -4, -1, 1, 3]),
    ("E", 8.30, [0, 4, 6, 2, -3, -5, -1, 3, 5, 1, -3, -5],
                [0, 3, 4, 1, -2, -4, -1, 2, 4, 1, -2, -4]),
    ("K", 8.52, [0, 3, 6, 3, -2, -5, -2, 3, 6, 2, -3, -6, -2, 3, 6, 2, -2, -5, -1, 3, 5, 2, -2, -3],
                [0, 2, 4, 2, -1, -4, -1, 2, 4, 1, -2, -4, -1, 2, 4, 1, -1, -4, -1, 2, 4, 1, -1, -2]),
    ("O", 8.56, [0, -3, -5, -1, 3, 5, 1, -3, -5, -2, 2, 5, 2],
                [0, -2, -4, -1, 2, 4, 1, -2, -4, -1, 1, 4, 1]),
    ("C", 8.72, [0, 3, 6, 2, -3, -6, -2, 3, 5, 1, -3, -5, -1, 3],
                [0, 2, 4, 1, -2, -4, -1, 2, 4, 1, -2, -4, -1, 2]),
    ("L", 8.84, [0, -3, -5, -1, 3, 6, 2, -3, -5, -1, 3, 5],
                [0, -2, -4, -1, 2, 4, 1, -2, -4, -1, 2, 4]),
    ("K", 9.00, [0, 3, 5, 2, -3, -5, -2, 3, 5, 1, -3, -5, -1, 3, 5, 2, -2, -4, 0, 3],
                [0, 2, 4, 1, -2, -4, -1, 2, 4, 1, -2, -4, -1, 2, 4, 1, -1, -3, 0, 2]),
    ("L", 9.06, [0, -3, -5, -1, 3, 5, 1, -3, -5, -2, 2, 4, 1, -3],
                [0, -2, -4, -1, 2, 4, 1, -2, -4, -1, 1, 3, 1, -2]),
    ("C", 9.24, [0, 3, 6, 2, -3, -5, -1, 3, 6, 2, -3, -5, -1, 3, 5, 1, -2, -4, -1, 3],
                [0, 2, 4, 1, -2, -4, -1, 2, 4, 1, -2, -4, -1, 2, 4, 1, -1, -3, -1, 2]),
    ("O", 9.40, [0, -3, -5, -1, 3, 5, 1, -3, -4, 0, 3],
                [0, -2, -4, -1, 2, 4, 1, -2, -3, 0, 2]),
    ("E", 9.28, [0, 3, 5, 1, -3, -5, -1, 3, 5, 2, -2, -4, 0],
                [0, 2, 4, 1, -2, -4, -1, 2, 4, 1, -1, -3, 0]),
    ("K", 10.00, [0, 3, 5, 1, -3, -5, -1, 3, 6, 2, -3, -5, -1, 3, 5, 1, -3, -4],
                 [0, 2, 4, 1, -2, -4, -1, 2, 4, 1, -2, -4, -1, 2, 4, 1, -2, -3]),
    ("L", 10.20, [0, -3, -5, -1, 3, 6, 2, -3, -5, -1, 3, 5, 1, -3, -5, -1, 3],
                 [0, -2, -4, -1, 2, 4, 1, -2, -4, -1, 2, 4, 1, -2, -4, -1, 2]),
    ("O", 10.52, [0, 3, 5, 1, -3, -5, -1, 3, 5, 2, -2, -5, -2, 2, 4],
                 [0, 2, 4, 1, -2, -4, -1, 2, 4, 1, -1, -4, -1, 1, 3]),
    ("C", 10.34, [0, -3, -5, -1, 3, 5, 1, -3, -5, -2, 2, 4],
                 [0, -2, -4, -1, 2, 4, 1, -2, -4, -1, 1, 3]),
    ("K", 10.64, [0, -3, -5, -1, 3, 5, 2, -2, -5, -2, 3, 5, 1, -3, -5, -1, 3, 4],
                 [0, -2, -4, -1, 2, 4, 1, -1, -4, -1, 2, 4, 1, -2, -4, -1, 2, 3]),
    ("E", 10.80, [0, 3, 5, 2, -2, -4, -1, 3, 5, 2],
                 [0, 2, 4, 1, -1, -3, -1, 2, 4, 1]),
]

# High-elevation passes: small, fast residuals close to zero (0.1 TECU)
passes_core = [
    ("N", 6.00, [1, -2, 2, -1, 3, -2, 1, -3, 2, -1, 2, -2, 1, -1, 3, -2, 2, -1, 1, -2]),
    ("O", 6.12, [-1, 2, -2, 1, -3, 2, -1, 2, -2, 3, -1, 1, -2, 2, -1, 3, -2, 1, -1, 2]),
    ("A", 6.26, [2, -1, 1, -3, 2, -2, 3, -1, 1, -2, 2, -3, 1, -1, 2, -2, 1, -2, 3, -1]),
    ("D", 6.40, [-2, 1, -1, 3, -2, 2, -1, 1, -3, 2, -1, 2, -2, 1, -1, 3, -2, 2, -1, 1]),
    ("N", 6.52, [1, -3, 2, -1, 2, -2, 1, -1, 3, -2, 2, -1, 1, -2, 2, -3, 1, -1, 2, -2]),
    ("B", 6.66, [-1, 2, -3, 2, -1, 1, -2, 3, -1, 2, -2, 1, -1, 2, -3, 1, -2, 2, -1, 1]),
    ("O", 6.80, [2, -2, 1, -1, 3, -2, 1, -2, 2, -1, 1, -3, 2, -1, 2, -2, 1, -1, 2, -2]),
    ("M", 6.92, [-1, 1, -2, 2, -1, 3, -2, 1, -1, 2, -2, 1, -3, 2, -1, 1, -2, 2, -1, 1]),
    ("S", 7.06, [1, -2, 2, -1, 1, -2, 3, -1, 2, -2, 1, -1, 2, -3, 1, -2, 2, -1, 1, -2]),
    ("N", 7.20, [-2, 2, -1, 1, -3, 2, -1, 2, -2, 1, -1, 3, -2, 1, -1, 2, -2, 1, -1, 2]),
    ("D", 7.32, [1, -1, 2, -2, 1, -3, 2, -1, 1, -2, 2, -1, 3, -2, 1, -1, 2, -2, 1, -1]),
    ("R", 7.46, [-1, 2, -2, 1, -1, 2, -3, 2, -1, 1, -2, 2, -1, 1, -3, 2, -1, 2, -2, 1]),
    ("N", 7.58, [2, -1, 1, -2, 3, -1, 2, -2, 1, -1, 2, -2, 1, -3, 2, -1, 1, -2, 2, -1]),
    ("B", 7.72, [-2, 1, -1, 2, -2, 1, -1, 3, -2, 2, -1, 1, -2, 2, -1, 1, -3, 2, -1, 2]),
    ("O", 7.84, [1, -2, 2, -1, 1, -3, 2, -1, 2, -2, 1, -1, 3, -2, 1, -2, 2, -1, 1, -2]),
    ("D", 7.98, [-1, 1, -2, 3, -1, 2, -2, 1, -1, 2, -3, 1, -1, 2, -2, 1, -1, 2, -2, 1]),
    ("A", 8.10, [2, -2, 1, -1, 2, -1, 3, -2, 1, -1, 2, -2, 1, -1, 3, -2, 2, -1, 1, -2]),
    ("N", 8.24, [-1, 2, -1, 1, -2, 2, -1, 3, -2, 1, -1, 2, -2, 1, -1, 2, -3, 1, -2, 2]),
    ("M", 8.36, [1, -1, 2, -2, 1, -1, 3, -2, 2, -1, 1, -2, 2, -1, 1, -3, 2, -1, 2, -1]),
    ("N", 8.50, [-2, 1, -1, 2, -3, 1, -1, 2, -2, 1, -2, 3, -1, 2, -1, 1, -2, 2, -1, 1]),
    ("O", 8.62, [1, -2, 3, -1, 1, -2, 2, -1, 1, -3, 2, -1, 2, -2, 1, -1, 2, -2, 1, -1]),
    ("S", 8.76, [-1, 1, -2, 2, -1, 3, -2, 1, -1, 2, -2, 1, -1, 3, -2, 1, -1, 2, -2, 2]),
    ("D", 8.88, [2, -1, 1, -2, 2, -1, 1, -3, 2, -2, 1, -1, 2, -1, 1, -2, 3, -1, 1, -2]),
    ("B", 9.02, [-1, 2, -2, 1, -1, 2, -1, 1, -2, 3, -1, 2, -2, 1, -1, 2, -2, 1, -3, 2]),
    ("R", 9.14, [1, -1, 2, -3, 1, -1, 2, -2, 1, -1, 2, -2, 3, -1, 1, -2, 2, -1, 1, -2]),
    ("N", 9.28, [-2, 2, -1, 1, -2, 3, -1, 1, -2, 2, -1, 1, -2, 2, -3, 1, -1, 2, -1, 1]),
    ("A", 9.40, [1, -2, 2, -1, 3, -2, 1, -1, 2, -2, 1, -1, 2]),
    ("O", 9.46, [-1, 2, -1, 1, -2, 2, -1, 3, -2, 1]),
    ("N", 10.00, [0, -1, 2, -2, 1, -1, 3, -2, 1, -1, 2, -2, 1, -3, 2, -1, 1, -2, 2, -1]),
    ("O", 10.12, [1, -2, 1, -1, 2, -2, 1, -1, 3, -2, 2, -1, 1, -2, 2, -1, 1, -3, 2, -1]),
    ("A", 10.26, [-1, 2, -2, 1, -1, 3, -2, 1, -1, 2, -2, 1, -1, 2, -3, 1, -2, 2, -1, 1]),
    ("D", 10.40, [2, -1, 1, -2, 2, -1, 1, -3, 2, -1, 2, -2, 1, -1, 2, -2, 1, -1, 3, -2]),
    ("N", 10.52, [-2, 1, -1, 2, -2, 3, -1, 1, -2, 2, -1, 1, -2, 2, -1, 3, -2, 1, -1, 2]),
    ("B", 10.64, [1, -1, 2, -2, 1, -3, 2, -1, 1, -2, 2, -1, 1, -2, 3, -1, 2, -2, 1]),
    ("M", 10.76, [-1, 2, -1, 1, -2, 2, -1, 3, -2, 1, -1, 2, -2]),
]

main_passes = passes_doy6 + passes_doy7 + passes_doy8 + passes_doy9 + passes_doy10

DOY_TICKS = [6, 6.5, 7, 7.5, 8, 8.5, 9, 9.5, 10, 10.5, 11]
DOY_LABELS = {t: ("%g" % t) for t in DOY_TICKS}
FONT = "Liberation Sans"
FONT_SIZE = "11.5px"
INK = "#1a1a1a"


def style(p, ylabel, yticks):
    p.x_range = Range1d(6, 11)
    p.xaxis.ticker = FixedTicker(ticks=DOY_TICKS)
    p.xaxis.major_label_overrides = DOY_LABELS
    p.yaxis.ticker = FixedTicker(ticks=yticks)
    for g, t in ((p.xgrid, DOY_TICKS), (p.ygrid, yticks)):
        g.ticker = FixedTicker(ticks=t)
        g.grid_line_color = "#000000"
        g.grid_line_dash = "2 3"
        g.grid_line_width = 1
        g.grid_line_alpha = 0.85
    p.xaxis.axis_label = "DOY (2007)"
    p.yaxis.axis_label = ylabel
    for ax in (p.xaxis, p.yaxis):
        ax.axis_line_color = "#000000"
        ax.major_tick_in = 4
        ax.major_tick_out = 0
        ax.minor_tick_line_color = None
        ax.major_tick_line_color = "#000000"
        ax.major_label_text_font = FONT
        ax.major_label_text_font_size = FONT_SIZE
        ax.major_label_text_color = INK
        ax.axis_label_text_font = FONT
        ax.axis_label_text_font_size = FONT_SIZE
        ax.axis_label_text_font_style = "normal"
        ax.axis_label_text_color = INK
    p.xaxis.major_label_standoff = 4
    p.xaxis.axis_label_standoff = 3
    p.yaxis.major_label_standoff = 4
    p.yaxis.axis_label_standoff = 6
    p.outline_line_color = "#000000"
    p.outline_line_width = 1
    p.background_fill_color = "white"
    p.border_fill_color = "white"


def make_fig(height, top, bottom):
    return figure(width=812, height=height, min_border_left=106, min_border_right=68,
                  min_border_top=top, min_border_bottom=bottom, margin=0,
                  output_backend="svg", toolbar_location=None, tools="")


# --- ionospheric delay
p1 = make_fig(169, 40, 34)
p1.y_range = Range1d(0, 20)
style(p1, "Ionospheric delay (TECU)", [0, 5, 10, 15, 20])
p1.title.text = "Station MANA - 2007 DOY 006 to 010"
p1.title.align = "center"
p1.title.text_font = FONT
p1.title.text_font_size = FONT_SIZE
p1.title.text_font_style = "normal"
p1.title.text_color = INK
p1.title.standoff = 9
for xs, ys in ((ion_doy_a, ion_tec_a), (ion_doy_b, ion_tec_b)):
    p1.line(xs, ys, line_color="#0000FF", line_width=5, line_join="round", line_cap="round")
    p1.scatter(xs, ys, size=5.5, marker="circle", fill_color="#0000FF", line_color="#0000FF")
p1.scatter(ion_first_doy, ion_first_tec, size=5.5, marker="circle",
           fill_color="#0000FF", line_color="#0000FF")


# --- residual panels
def pass_lines(passes, column_index):
    xs, ys, cs = [], [], []
    for entry in passes:
        vals = entry[column_index]
        t0 = entry[1]
        xs.append([t0 + STEP * i for i in range(len(vals))])
        ys.append([v / 10.0 for v in vals])
        cs.append(JET[entry[0]])
    return ColumnDataSource(dict(xs=xs, ys=ys, color=cs))


def residual_panel(height, top, bottom, ylabel, column_index):
    p = make_fig(height, top, bottom)
    p.y_range = Range1d(-2, 2)
    style(p, ylabel, [-2, -1, 0, 1, 2])
    p.multi_line("xs", "ys", source=pass_lines(passes_band, column_index), line_color="color",
                 line_width=7, line_join="round", line_cap="round")
    p.multi_line("xs", "ys", source=pass_lines(main_passes, column_index), line_color="color",
                 line_width=7, line_join="round", line_cap="round")
    p.multi_line("xs", "ys", source=pass_lines(passes_core, 2), line_color="color",
                 line_width=1.8, line_join="round", line_cap="round")
    return p


p2 = residual_panel(158, 30, 33, "Slant Residuals (TECU)", 2)
p3 = residual_panel(189, 30, 64, "Vertical Residuals (TECU)", 3)

# figure window frame
top_rule = Div(width=815, height=3, margin=0, styles={"background-color": "#000000"})
left_rule = Div(width=3, height=527, margin=0, styles={"background-color": "#000000"})
layout = column(
    Spacer(width=825, height=8, margin=0),
    row(Spacer(width=10, height=3, margin=0), top_rule, margin=0, spacing=0),
    row(Spacer(width=10, height=527, margin=0), left_rule,
        column(p1, p2, p3, margin=0, spacing=0), margin=0, spacing=0),
    margin=0, spacing=0,
)

open("out.html", "w").write(file_html(layout, INLINE))
